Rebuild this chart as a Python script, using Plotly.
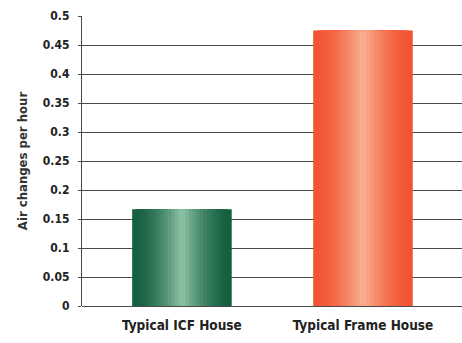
import plotly.graph_objects as go

categories = ["Typical ICF House", "Typical Frame House"]
values = [0.167, 0.475]
y_ticks = [0, 0.05, 0.1, 0.15, 0.2, 0.25, 0.3, 0.35, 0.4, 0.45, 0.5]
y_tick_labels = ["0", "0.05", "0.1", "0.15", "0.2", "0.25", "0.3", "0.35", "0.4", "0.45", "0.5"]
y_title = "Air changes per hour"

edge_colors = [(22, 95, 65), (242, 84, 50)]
center_colors = [(135, 190, 160), (250, 172, 142)]

FONT = "DejaVu Sans Condensed"
bar_width = 0.55
N = 14

fig = go.Figure()
for k in range(N):
    t = k / (N - 1)
    cols = []
    for e, c in zip(edge_colors, center_colors):
        r, g, b = (int(e[i] + (c[i] - e[i]) * t ** 1.6) for i in range(3))
        cols.append(f"rgb({r},{g},{b})")
    w = bar_width * (1 - k / N)
    fig.add_trace(go.Bar(
        x=list(range(len(categories))), y=values,
        width=[w] * len(values),
        marker=dict(color=cols, line=dict(width=0)),
        showlegend=False, hoverinfo="skip" if k else "y",
    ))

fig.update_layout(
    width=462, height=343,
    margin=dict(l=82, r=0, t=16, b=37),
    paper_bgcolor="white", plot_bgcolor="white",
    barmode="overlay",
    font=dict(family=FONT, color="#222"),
    xaxis=dict(
        range=[-0.552, 1.547],
        tickmode="array", tickvals=[0, 1], ticktext=categories,
        tickfont=dict(family=FONT, size=13.5, weight="bold", color="#222"),
        showgrid=False, zeroline=False, showline=False,
        ticks="", ticklabelstandoff=9,
    ),
    yaxis=dict(
        range=[0, 0.5],
        tickmode="array", tickvals=y_ticks, ticktext=y_tick_labels,
        tickfont=dict(family=FONT, size=12, weight="bold", color="#222"),
        showgrid=True, gridcolor="#4a4a4a", gridwidth=1.3,
        showline=True, linecolor="#4a4a4a", linewidth=1.3,
        zeroline=True, zerolinecolor="#4a4a4a", zerolinewidth=1.3,
        ticks="outside", ticklen=3, tickcolor="#4a4a4a",
        ticklabelstandoff=6,
        title=dict(text=y_title, font=dict(family=FONT, size=13, weight="bold", color="#333"), standoff=12),
    ),
)

fig.write_html("out.html")
